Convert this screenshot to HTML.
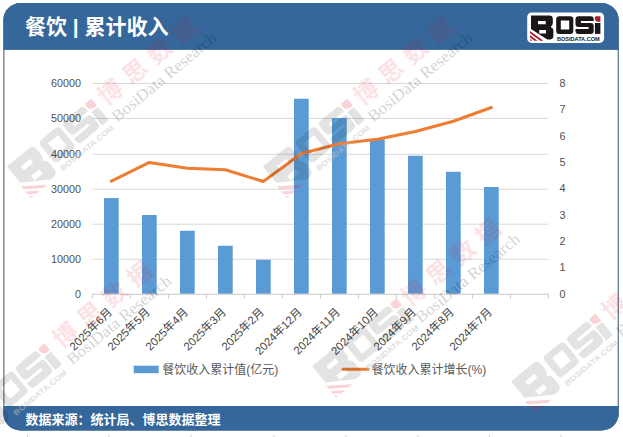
<!DOCTYPE html>
<html lang="zh-CN"><head><meta charset="utf-8"><title>餐饮 | 累计收入</title>
<style>html,body{margin:0;padding:0;background:#fff}body{width:623px;height:437px;overflow:hidden;position:relative;font-family:"Liberation Sans","Noto Sans CJK SC",sans-serif}svg{position:absolute;left:0;top:0;display:block}text{font-family:"Liberation Sans","Noto Sans CJK SC",sans-serif}.serif{font-family:"Liberation Serif","Noto Serif CJK SC",serif}</style>
</head><body>
<svg width="623" height="437" viewBox="0 0 623 437">
<defs>
<clipPath id="fc"><path d="M20.4 3.1H601.7A17 17 0 0 1 618.7 20.1V413.4A17 17 0 0 1 601.7 430.4H20.4A17 17 0 0 1 3.4 413.4V20.1A17 17 0 0 1 20.4 3.1Z"/></clipPath>
<g id="lg"><path fill="#1a1516" fill-rule="evenodd" d="M3.8 2.9H22.2Q25.6 2.9 25.6 6.3V10.6Q25.6 13.6 23.4 14.5Q26.2 15.6 26.2 18.6V23.2Q26.2 27 22.4 27H20.1L3.8 16.4ZM10.8 8.5V11.7H18.5V8.5ZM12 17.4V21H18.8V17.4Z"/><path fill="#a5202f" d="M2.8 18.4L16.2 28.2H13L2.8 20.8ZM2.8 22.7L10.4 28.2H7.2L2.8 25ZM2.8 26.6L5 28.2H2.8Z"/><path fill="#1a1516" fill-rule="evenodd" d="M32 3.7H43.1Q46.1 3.7 46.1 6.7V18.4Q46.1 21.4 43.1 21.4H32Q29 21.4 29 18.4V6.7Q29 3.7 32 3.7ZM33.6 8.1V17H42V8.1Z"/><path fill="#1a1516" d="M51.3 3.7H63.5Q66.5 3.7 66.5 6.7V8.6H53.7V10.6H63.5Q66.5 10.600 66.5 13.6V18.4Q66.5 21.4 63.5 21.4H51.3Q48.3 21.4 48.3 18.4V16.4H61.400V14.500H51.3Q48.3 14.500 48.3 11.5V6.7Q48.3 3.7 51.3 3.7Z"/><path fill="#1a1516" d="M67.7 10.5H73.2V21.4H67.7Z"/><path fill="#a5202f" d="M68.6 3.7H73.2V9.3H69.8L67.7 7.2V4.6Z"/><text transform="translate(29.4,28) scale(1.13,1)" x="0.3" y="0" font-size="4.7" font-weight="bold" fill="#1a1516" textLength="37.8" lengthAdjust="spacingAndGlyphs">BOSIDATA.COM</text></g>
<g id="wl"><g transform="translate(-10.4,-8.7) scale(1.56)"><g opacity="0.105"><path fill="#000" fill-rule="evenodd" d="M3.8 2.9H22.2Q25.6 2.9 25.6 6.3V10.6Q25.6 13.6 23.4 14.5Q26.2 15.6 26.2 18.6V23.2Q26.2 27 22.4 27H20.1L3.8 16.4ZM10.8 8.5V11.7H18.5V8.5ZM12 17.4V21H18.8V17.4Z"/><path fill="none" d="M2.8 18.4L16.2 28.2H13L2.8 20.8ZM2.8 22.7L10.4 28.2H7.2L2.8 25ZM2.8 26.6L5 28.2H2.8Z"/><path fill="#000" fill-rule="evenodd" d="M32 3.7H43.1Q46.1 3.7 46.1 6.7V18.4Q46.1 21.4 43.1 21.4H32Q29 21.4 29 18.4V6.7Q29 3.7 32 3.7ZM33.6 8.1V17H42V8.1Z"/><path fill="#000" d="M51.3 3.7H63.5Q66.5 3.7 66.5 6.7V8.6H53.7V10.6H63.5Q66.5 10.600 66.5 13.6V18.4Q66.5 21.4 63.5 21.4H51.3Q48.3 21.4 48.3 18.4V16.4H61.400V14.500H51.3Q48.3 14.500 48.3 11.5V6.7Q48.3 3.7 51.3 3.7Z"/><path fill="#000" d="M67.7 10.5H73.2V21.4H67.7Z"/><path fill="none" d="M68.6 3.7H73.2V9.3H69.8L67.7 7.2V4.6Z"/></g><g opacity="0.17"><path fill="none" fill-rule="evenodd" d="M3.8 2.9H22.2Q25.6 2.9 25.6 6.3V10.6Q25.6 13.6 23.4 14.5Q26.2 15.6 26.2 18.6V23.2Q26.2 27 22.4 27H20.1L3.8 16.4ZM10.8 8.5V11.7H18.5V8.5ZM12 17.4V21H18.8V17.4Z"/><path fill="#e60012" d="M2.8 18.4L16.2 28.2H13L2.8 20.8ZM2.8 22.7L10.4 28.2H7.2L2.8 25ZM2.8 26.6L5 28.2H2.8Z"/><path fill="none" fill-rule="evenodd" d="M32 3.7H43.1Q46.1 3.7 46.1 6.7V18.4Q46.1 21.4 43.1 21.4H32Q29 21.4 29 18.4V6.7Q29 3.7 32 3.7ZM33.6 8.1V17H42V8.1Z"/><path fill="none" d="M51.3 3.7H63.5Q66.5 3.7 66.5 6.7V8.6H53.7V10.6H63.5Q66.5 10.600 66.5 13.6V18.4Q66.5 21.4 63.5 21.4H51.3Q48.3 21.4 48.3 18.4V16.4H61.400V14.500H51.3Q48.3 14.500 48.3 11.5V6.7Q48.3 3.7 51.3 3.7Z"/><path fill="none" d="M67.7 10.5H73.2V21.4H67.7Z"/><path fill="#e60012" d="M68.6 3.7H73.2V9.3H69.8L67.7 7.2V4.6Z"/></g><text transform="translate(29.4,28) scale(1.13,1)" x="0.3" y="0" font-size="4.7" font-weight="bold" fill="#c4c4c4" opacity="0.55" textLength="37.8" lengthAdjust="spacingAndGlyphs">BOSIDATA.COM</text></g></g>
<g id="wt"><text x="110.9" y="12.6" font-size="24" font-weight="bold" letter-spacing="8" fill="#e60012" opacity="0.108">博思数据</text><text class="serif" x="108.7" y="32" font-size="16.4" fill="#000" opacity="0.17" textLength="130" lengthAdjust="spacingAndGlyphs">BosiData Research</text></g>
</defs>
<rect width="623" height="437" fill="#fff"/>
<g clip-path="url(#fc)">
<path d="M20.4 3.1H601.7A17 17 0 0 1 618.7 20.1V413.4A17 17 0 0 1 601.7 430.4H20.4A17 17 0 0 1 3.4 413.4V20.1A17 17 0 0 1 20.4 3.1Z" fill="#fff" stroke="#33546b" stroke-width="2"/>
<rect x="0" y="0" width="623" height="49.6" fill="#35679a"/>
<rect x="0" y="48.8" width="623" height="0.8" fill="#2d5a88"/>
<rect x="0" y="406" width="623" height="40" fill="#35679a"/>
</g>
<text x="25" y="34" font-size="21" font-weight="bold" fill="#fff">餐饮 | 累计收入</text>
<rect x="527.2" y="12.5" width="76.9" height="30.4" rx="4.5" fill="#fff"/>
<use href="#lg" x="527.2" y="12.5"/>
<g>
<rect x="92.35" y="258.8" width="456" height="1" fill="#d9d9d9"/>
<rect x="92.35" y="223.7" width="456" height="1" fill="#d9d9d9"/>
<rect x="92.35" y="188.7" width="456" height="1" fill="#d9d9d9"/>
<rect x="92.35" y="153.8" width="456" height="1" fill="#d9d9d9"/>
<rect x="92.35" y="117.9" width="456" height="1" fill="#d9d9d9"/>
<rect x="92.35" y="82.9" width="456" height="1" fill="#d9d9d9"/>
<rect x="104" y="198.1" width="14.7" height="95.7" fill="#5b9bd5"/>
<rect x="142" y="215" width="14.7" height="78.8" fill="#5b9bd5"/>
<rect x="180" y="230.75" width="14.7" height="63.05" fill="#5b9bd5"/>
<rect x="218" y="245.75" width="14.7" height="48.05" fill="#5b9bd5"/>
<rect x="256" y="259.75" width="14.7" height="34.05" fill="#5b9bd5"/>
<rect x="294" y="98.75" width="14.7" height="195.05" fill="#5b9bd5"/>
<rect x="332" y="118" width="14.7" height="175.8" fill="#5b9bd5"/>
<rect x="370" y="139.25" width="14.7" height="154.55" fill="#5b9bd5"/>
<rect x="408" y="155.75" width="14.7" height="138.05" fill="#5b9bd5"/>
<rect x="446" y="171.75" width="14.7" height="122.05" fill="#5b9bd5"/>
<rect x="484" y="187" width="14.7" height="106.8" fill="#5b9bd5"/>
<rect x="91.85" y="293.75" width="457" height="1" fill="#c9c9c9"/>
<rect x="91.95" y="294" width="1" height="4.6" fill="#cdcdcd"/>
<rect x="129.95" y="294" width="1" height="4.6" fill="#cdcdcd"/>
<rect x="167.95" y="294" width="1" height="4.6" fill="#cdcdcd"/>
<rect x="205.95" y="294" width="1" height="4.6" fill="#cdcdcd"/>
<rect x="243.95" y="294" width="1" height="4.6" fill="#cdcdcd"/>
<rect x="281.95" y="294" width="1" height="4.6" fill="#cdcdcd"/>
<rect x="319.95" y="294" width="1" height="4.6" fill="#cdcdcd"/>
<rect x="357.95" y="294" width="1" height="4.6" fill="#cdcdcd"/>
<rect x="395.95" y="294" width="1" height="4.6" fill="#cdcdcd"/>
<rect x="433.95" y="294" width="1" height="4.6" fill="#cdcdcd"/>
<rect x="471.95" y="294" width="1" height="4.6" fill="#cdcdcd"/>
<rect x="509.95" y="294" width="1" height="4.6" fill="#cdcdcd"/>
<rect x="547.95" y="294" width="1" height="4.6" fill="#cdcdcd"/>
<g font-size="10.8" fill="#505050">
<text x="81" y="297.75" text-anchor="end">0</text>
<text x="81" y="263.05" text-anchor="end">10000</text>
<text x="81" y="227.95" text-anchor="end">20000</text>
<text x="81" y="192.95" text-anchor="end">30000</text>
<text x="81" y="158.05" text-anchor="end">40000</text>
<text x="81" y="122.15" text-anchor="end">50000</text>
<text x="81" y="87.15" text-anchor="end">60000</text>
<text x="559.5" y="297.75">0</text>
<text x="559.5" y="271.43">1</text>
<text x="559.5" y="245.1">2</text>
<text x="559.5" y="218.78">3</text>
<text x="559.5" y="192.45">4</text>
<text x="559.5" y="166.12">5</text>
<text x="559.5" y="139.8">6</text>
<text x="559.5" y="113.47">7</text>
<text x="559.5" y="87.15">8</text>
</g>
<polyline points="111.35,181.2 149.35,162.45 187.35,168.25 225.35,169.75 263.35,181.5 301.35,153.5 339.35,143.75 377.35,139.25 415.35,131.5 453.35,121.25 491.35,107.5" fill="none" stroke="#ed7d31" stroke-width="3" stroke-linecap="round" stroke-linejoin="round"/>
<g font-size="11.4" fill="#454545" text-anchor="end">
<text transform="translate(112.7,312.75) rotate(-45)">2025年6月</text>
<text transform="translate(150.7,312.75) rotate(-45)">2025年5月</text>
<text transform="translate(188.7,312.75) rotate(-45)">2025年4月</text>
<text transform="translate(226.7,312.75) rotate(-45)">2025年3月</text>
<text transform="translate(264.7,312.75) rotate(-45)">2025年2月</text>
<text transform="translate(302.7,312.75) rotate(-45)">2024年12月</text>
<text transform="translate(340.7,312.75) rotate(-45)">2024年11月</text>
<text transform="translate(378.7,312.75) rotate(-45)">2024年10月</text>
<text transform="translate(416.7,312.75) rotate(-45)">2024年9月</text>
<text transform="translate(454.7,312.75) rotate(-45)">2024年8月</text>
<text transform="translate(492.7,312.75) rotate(-45)">2024年7月</text>
</g>
</g>
<rect x="133.7" y="365.7" width="25" height="7.5" fill="#5b9bd5"/>
<text x="162.3" y="374" font-size="12" fill="#595959">餐饮收入累计值(亿元)</text>
<line x1="343.2" y1="369.3" x2="368" y2="369.3" stroke="#ed7d31" stroke-width="3" stroke-linecap="round"/>
<text x="371.5" y="374" font-size="12" fill="#595959">餐饮收入累计增长(%)</text>
<text x="25.5" y="423.5" font-size="13" font-weight="bold" fill="#fff">数据来源：统计局、博思数据整理</text>
<rect x="27" y="435" width="1" height="2" fill="#cfcfcf"/>
<rect x="108.5" y="435" width="1" height="2" fill="#cfcfcf"/>
<rect x="190.5" y="435" width="1" height="2" fill="#cfcfcf"/>
<rect x="273.5" y="435" width="1" height="2" fill="#cfcfcf"/>
<rect x="345.5" y="435" width="1" height="2" fill="#cfcfcf"/>
<rect x="417.5" y="435" width="1" height="2" fill="#cfcfcf"/>
<rect x="489" y="435" width="1" height="2" fill="#cfcfcf"/>
<rect x="560.5" y="435" width="1" height="2" fill="#cfcfcf"/>
<g transform="translate(13,167) rotate(-39.5)"><use href="#wl" x="0"/><use href="#wt"/></g>
<g transform="translate(269,167) rotate(-39.5)"><use href="#wl" x="0"/><use href="#wt"/></g>
<g transform="translate(-32,410) rotate(-39.5)"><use href="#wl" x="-2.5"/><use href="#wt"/></g>
<g transform="translate(316.5,368) rotate(-39.5)"><use href="#wl" x="2.2"/><use href="#wt"/></g>
<g transform="translate(517.2,382) rotate(-39.5)"><use href="#wl" x="0"/><use href="#wt"/></g>
</svg>
</body></html>
